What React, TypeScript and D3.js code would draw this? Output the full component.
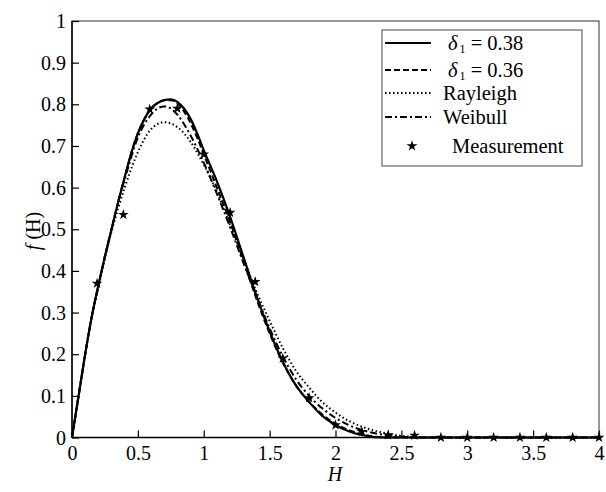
import React, { useEffect, useRef } from "react";
import * as d3 from "d3";

// values
const hSolid = [0, 0.05, 0.1, 0.15, 0.2, 0.25, 0.3, 0.35, 0.4, 0.45, 0.5, 0.55, 0.6, 0.65, 0.7, 0.75, 0.8, 0.85, 0.9, 0.95, 1.0, 1.1, 1.2, 1.3, 1.4, 1.5, 1.6, 1.7, 1.8, 1.9, 2.0, 2.1, 2.2, 2.3, 2.4, 3, 4];
const fSolid = [0, 0.1, 0.2, 0.29, 0.365, 0.435, 0.5, 0.565, 0.625, 0.683, 0.73, 0.765, 0.79, 0.803, 0.81, 0.812, 0.806, 0.79, 0.765, 0.73, 0.69, 0.615, 0.53, 0.435, 0.34, 0.255, 0.182, 0.125, 0.085, 0.052, 0.03, 0.015, 0.006, 0.001, 0, 0, 0];
const fDashed = [0, 0.1, 0.2, 0.29, 0.365, 0.435, 0.5, 0.565, 0.625, 0.683, 0.73, 0.765, 0.79, 0.803, 0.81, 0.81, 0.802, 0.783, 0.755, 0.72, 0.68, 0.6, 0.518, 0.425, 0.333, 0.25, 0.18, 0.125, 0.086, 0.055, 0.033, 0.018, 0.008, 0.002, 0, 0, 0];

const hRay = [0, 0.05, 0.1, 0.15, 0.2, 0.25, 0.3, 0.35, 0.4, 0.5, 0.6, 0.7, 0.8, 0.9, 1.0, 1.1, 1.2, 1.3, 1.4, 1.5, 1.6, 1.7, 1.8, 1.9, 2.0, 2.1, 2.2, 2.3, 2.4, 2.5, 2.6, 2.7, 3, 4];
const fRay = [0, 0.1, 0.2, 0.29, 0.36, 0.43, 0.495, 0.55, 0.6, 0.685, 0.74, 0.757, 0.745, 0.71, 0.655, 0.59, 0.51, 0.43, 0.35, 0.28, 0.215, 0.16, 0.12, 0.085, 0.06, 0.04, 0.026, 0.016, 0.009, 0.004, 0.001, 0, 0, 0];

const hWei = [0, 0.05, 0.1, 0.15, 0.2, 0.25, 0.3, 0.35, 0.4, 0.5, 0.6, 0.65, 0.7, 0.75, 0.8, 0.9, 1.0, 1.1, 1.2, 1.3, 1.4, 1.5, 1.6, 1.7, 1.8, 1.9, 2.0, 2.1, 2.2, 2.3, 2.4, 2.5, 2.6, 3, 4];
const fWei = [0, 0.1, 0.2, 0.29, 0.365, 0.435, 0.5, 0.565, 0.62, 0.72, 0.775, 0.79, 0.795, 0.79, 0.775, 0.725, 0.66, 0.585, 0.505, 0.42, 0.34, 0.262, 0.195, 0.14, 0.1, 0.07, 0.047, 0.03, 0.018, 0.01, 0.005, 0.002, 0, 0, 0];

const hMeas = [0.19, 0.39, 0.59, 0.8, 1.0, 1.2, 1.39, 1.6, 1.8, 2.0, 2.2, 2.4, 2.6, 2.8, 3.0, 3.2, 3.4, 3.6, 3.8, 4.0];
const fMeas = [0.37, 0.535, 0.788, 0.79, 0.68, 0.54, 0.374, 0.19, 0.095, 0.03, 0.014, 0.006, 0.005, 0, 0, 0, 0, 0, 0, 0];

const xTicks = [0, 0.5, 1, 1.5, 2, 2.5, 3, 3.5, 4];
const yTicks = [0, 0.1, 0.2, 0.3, 0.4, 0.5, 0.6, 0.7, 0.8, 0.9, 1];

const font = "'Liberation Serif', 'Times New Roman', Times, 'DejaVu Serif', serif";

export default function App() {
  const svgRef = useRef<SVGSVGElement>(null);
  const width = 606;
  const height = 492;
  const m = { left: 72, right: 599, top: 21, bottom: 437.5 };

  useEffect(() => {
    const svg = d3.select(svgRef.current);
    svg.selectAll("*").remove();

    const x = d3.scaleLinear().domain([0, 4]).range([m.left, m.right]);
    const y = d3.scaleLinear().domain([0, 1]).range([m.bottom, m.top]);

    svg.append("rect").attr("width", width).attr("height", height).attr("fill", "#fff");

    // frame
    svg.append("rect")
      .attr("x", m.left).attr("y", m.top)
      .attr("width", m.right - m.left).attr("height", m.bottom - m.top)
      .attr("fill", "none").attr("stroke", "#333").attr("stroke-width", 1);

    const line = d3.line<[number, number]>()
      .x(d => x(d[0])).y(d => y(d[1]))
      .curve(d3.curveMonotoneX);

    const series = [
      { h: hRay, f: fRay, dash: "1.5,2.5", w: 2 },
      { h: hWei, f: fWei, dash: "7,3,2,3", w: 2 },
      { h: hSolid, f: fDashed, dash: "6,3", w: 2 },
      { h: hSolid, f: fSolid, dash: null, w: 2.2 },
    ];
    series.forEach(s => {
      svg.append("path")
        .datum(s.h.map((h, i) => [h, s.f[i]] as [number, number]))
        .attr("d", line)
        .attr("fill", "none")
        .attr("stroke", "#000")
        .attr("stroke-width", s.w)
        .attr("stroke-dasharray", s.dash);
    });

    const star = d3.symbol().type(d3.symbolStar).size(36);
    svg.append("g").selectAll("path")
      .data(hMeas.map((h, i) => [h, fMeas[i]]))
      .join("path")
      .attr("d", star)
      .attr("transform", d => `translate(${x(d[0])},${y(d[1])})`)
      .attr("fill", "#000");

    // axes with inward ticks
    svg.append("line")
      .attr("x1", m.left).attr("x2", m.right).attr("y1", m.bottom).attr("y2", m.bottom)
      .attr("stroke", "#000").attr("stroke-width", 1.5);
    svg.append("line")
      .attr("x1", m.left).attr("x2", m.left).attr("y1", m.top).attr("y2", m.bottom)
      .attr("stroke", "#000").attr("stroke-width", 1.5);

    const xg = svg.append("g").attr("transform", `translate(0,${m.bottom})`)
      .call(d3.axisBottom(x).tickValues(xTicks).tickSizeInner(-7).tickSizeOuter(0).tickPadding(12).tickFormat(d3.format("")));
    const yg = svg.append("g").attr("transform", `translate(${m.left},0)`)
      .call(d3.axisLeft(y).tickValues(yTicks).tickSizeInner(-7).tickSizeOuter(0).tickPadding(12).tickFormat(d3.format("")));
    [xg, yg].forEach(g => {
      g.attr("font-family", null).attr("font-size", null);
      g.select(".domain").remove();
      g.selectAll(".tick line").attr("stroke", "#000").attr("stroke-width", 1.2);
      g.selectAll(".tick text").style("font-family", font).style("font-size", "20px").attr("fill", "#000");
    });
    yg.selectAll(".tick text").attr("x", -6).attr("dy", "0.33em");
    xg.selectAll(".tick text").attr("dy", "0.9em").attr("y", 4);

    // axis titles
    svg.append("text")
      .attr("x", 335).attr("y", 481)
      .attr("text-anchor", "middle")
      .style("font-family", font).style("font-size", "20px").attr("font-style", "italic")
      .text("H");
    const yt = svg.append("text")
      .attr("transform", "translate(40,231) rotate(-90)")
      .attr("text-anchor", "middle")
      .style("font-family", font).style("font-size", "20px");
    yt.append("tspan").attr("font-style", "italic").text("f");
    yt.append("tspan").text(" (H)");

    // legend
    const lg = svg.append("g");
    lg.append("rect")
      .attr("x", 382).attr("y", 30).attr("width", 200).attr("height", 136)
      .attr("fill", "#fff").attr("stroke", "#444").attr("stroke-width", 1);
    const items = [
      { y: 43, dash: null, label: "0.38" },
      { y: 70, dash: "6,3", label: "0.36" },
      { y: 93, dash: "1.5,2.5", label: "Rayleigh" },
      { y: 117, dash: "7,3,2,3", label: "Weibull" },
    ];
    items.forEach((it, i) => {
      lg.append("line")
        .attr("x1", 385).attr("x2", 431).attr("y1", it.y).attr("y2", it.y)
        .attr("stroke", "#000").attr("stroke-width", 2)
        .attr("stroke-dasharray", it.dash);
      const t = lg.append("text")
        .attr("x", i < 2 ? 448 : 443).attr("y", it.y + 7)
        .style("font-family", font).style("font-size", "20.5px");
      if (i < 2) {
        t.append("tspan").attr("font-style", "italic").text("δ");
        t.append("tspan").style("font-size", "12px").attr("dy", 3).attr("dx", 2).text("1");
        t.append("tspan").attr("dy", -3).text(" = " + it.label);
      } else {
        t.text(it.label);
      }
    });
    lg.append("path")
      .attr("d", star)
      .attr("transform", "translate(412,146)")
      .attr("fill", "#000");
    lg.append("text")
      .attr("x", 452).attr("y", 153)
      .style("font-family", font).style("font-size", "20.5px")
      .text("Measurement");
  }, []);

  return (
    <svg
      ref={svgRef}
      width={width}
      height={height}
      style={{ position: "absolute", left: 0, top: 0 }}
    />
  );
}
